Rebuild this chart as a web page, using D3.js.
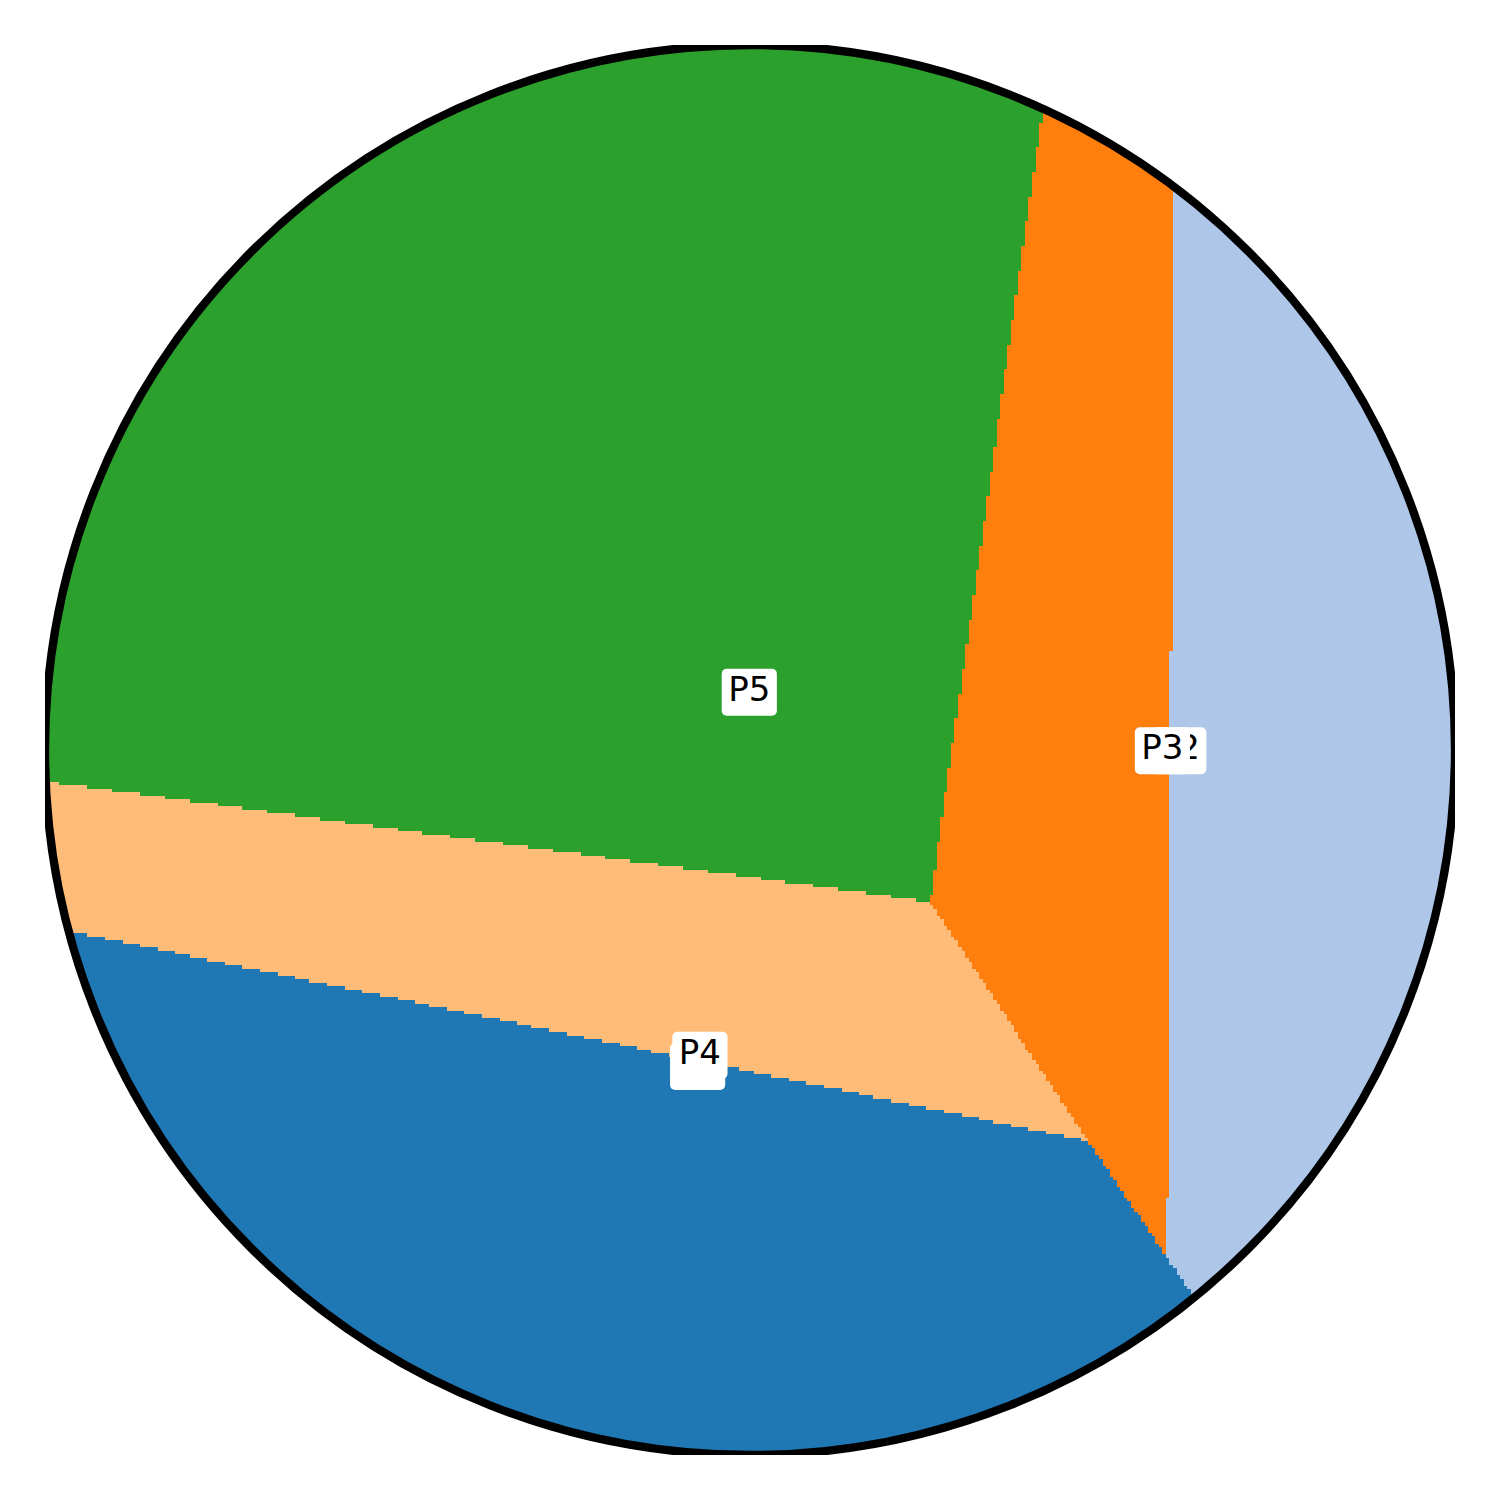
<!DOCTYPE html>
<html>
<head>
<meta charset="utf-8">
<script src="https://cdn.jsdelivr.net/npm/d3@7"></script>
<style>
html,body{margin:0;padding:0;background:#fff;}
svg{display:block;}
</style>
</head>
<body>
<script>
// ---- data ----
const labels = ["P1", "P2", "P3", "P4", "P5"];
const siteX  = [-0.0743, 0.6082, 0.585, -0.071, -0.001];
const siteY  = [-0.449, -0.00115, -0.001, -0.433, 0.082];
const colors = ["#1f77b4", "#aec7e8", "#ff7f0e", "#ffbb78", "#2ca02c"];
const GRID = 400;   // raster resolution of the cell image

// ---- layout ----
const W = 1500, H = 1500;
const x = d3.scaleLinear().domain([-1, 1]).range([45, 1455]);
const y = d3.scaleLinear().domain([-1, 1]).range([1455, 45]);

const svg = d3.select("body").append("svg").attr("width", W).attr("height", H);
const defs = svg.append("defs");
defs.append("clipPath").attr("id", "circ")
  .append("circle").attr("cx", x(0)).attr("cy", y(0)).attr("r", x(1) - x(0));
defs.append("clipPath").attr("id", "axes")
  .append("rect").attr("x", x(-1)).attr("y", y(1)).attr("width", x(1) - x(-1)).attr("height", y(-1) - y(1));

const pts = labels.map((l, i) => [siteX[i], siteY[i]]);
const delaunay = d3.Delaunay.from(pts);

// raster of nearest-site cells, run-length encoded per row
const runs = [];
const step = 2 / GRID;
let last = 0;
for (let r = 0; r < GRID; r++) {
  const yc = 1 - (r + 0.5) * step;
  let start = 0, cur = -1;
  for (let c = 0; c <= GRID; c++) {
    let k = -1;
    if (c < GRID) {
      const xc = -1 + (c + 0.5) * step;
      k = delaunay.find(xc, yc, last);
      last = k;
    }
    if (k !== cur) {
      if (cur >= 0) runs.push({ r, c0: start, c1: c, k: cur });
      cur = k; start = c;
    }
  }
}

const g = svg.append("g").attr("clip-path", "url(#circ)");
g.selectAll("rect").data(runs).join("rect")
  .attr("x", d => x(-1 + d.c0 * step))
  .attr("width", d => x(-1 + d.c1 * step) - x(-1 + d.c0 * step) + 0.6)
  .attr("y", d => y(1 - d.r * step))
  .attr("height", d => y(1 - (d.r + 1) * step) - y(1 - d.r * step) + 0.6)
  .attr("fill", d => colors[d.k])
  .attr("shape-rendering", "crispEdges");

// circle outline
svg.append("g").attr("clip-path", "url(#axes)")
  .append("circle")
  .attr("cx", x(0)).attr("cy", y(0)).attr("r", x(1) - x(0))
  .attr("fill", "none").attr("stroke", "#000").attr("stroke-width", 8.3);

// labels
const lab = svg.append("g");
labels.forEach((l, i) => {
  const cx = x(siteX[i]), cy = y(siteY[i]);
  const gg = lab.append("g");
  const t = gg.append("text")
    .attr("x", cx).attr("y", cy + 8.5)
    .attr("text-anchor", "middle")
    .attr("font-family", "DejaVu Sans")
    .attr("font-size", 34)
    .attr("fill", "#000")
    .text(l);
  const bb = t.node().getBBox();
  const bw = bb.width + 13, bh = 47;
  gg.insert("rect", "text")
    .attr("x", cx - bw / 2).attr("y", cy - bh / 2)
    .attr("width", bw).attr("height", bh)
    .attr("rx", 5).attr("ry", 5)
    .attr("fill", "#fff");
});
</script>
</body>
</html>
